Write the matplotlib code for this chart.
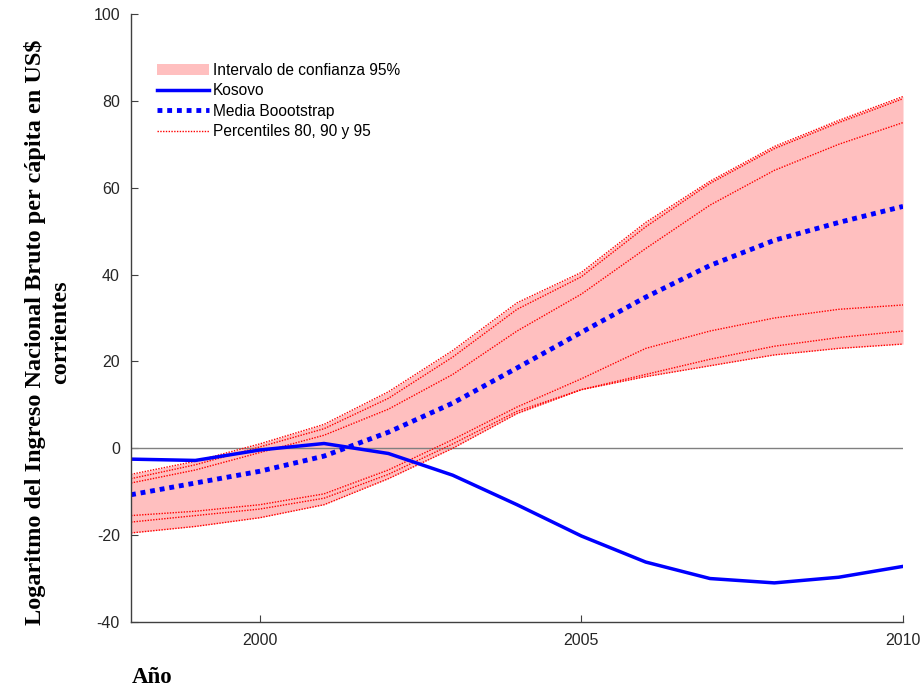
import numpy as np
import matplotlib.pyplot as plt
from matplotlib.patches import Patch
from matplotlib.lines import Line2D

plt.rcParams['axes.unicode_minus'] = False

# Datos (1998-2010)
anios = np.arange(1998, 2011)
kosovo = [-2.5, -2.8, -0.4, 1.1, -1.2, -6.2, -13.0, -20.2, -26.2, -30.0, -31.0, -29.7, -27.2]
media = [-10.7, -8.0, -5.3, -1.8, 3.7, 10.4, 18.5, 26.7, 34.8, 42.1, 47.9, 52.0, 55.7]
p95_sup = [-6.0, -3.0, 1.0, 5.5, 13.0, 22.5, 33.5, 40.5, 52.0, 61.5, 69.5, 75.5, 81.0]
p90_sup = [-7.0, -3.8, 0.3, 4.5, 11.5, 21.0, 32.0, 39.5, 51.0, 61.0, 69.0, 75.0, 80.5]
p80_sup = [-8.0, -5.0, -1.0, 3.0, 9.0, 17.0, 27.0, 35.5, 46.0, 56.0, 64.0, 70.0, 75.0]
p80_inf = [-15.5, -14.5, -13.0, -10.5, -5.0, 2.0, 9.5, 16.0, 23.0, 27.0, 30.0, 32.0, 33.0]
p90_inf = [-17.0, -15.5, -14.0, -11.5, -6.0, 1.0, 8.5, 13.5, 17.0, 20.5, 23.5, 25.5, 27.0]
p95_inf = [-19.5, -18.0, -16.0, -13.0, -7.0, 0.0, 8.0, 13.5, 16.5, 19.0, 21.5, 23.0, 24.0]

fig = plt.figure(figsize=(9.24, 6.91), dpi=100)
ax = fig.add_axes([0.1418, 0.0999, 0.8355, 0.8798])

ax.fill_between(anios, p95_inf, p95_sup, color='#ffbfbf', lw=0)
ax.axhline(0, color='#808080', lw=1.0)
for serie in [p95_sup, p90_sup, p80_sup, p80_inf, p90_inf, p95_inf]:
    ax.plot(anios, serie, color='red', ls=(0, (1, 1)), lw=1.0)
ax.plot(anios, kosovo, color='#0000ff', lw=2.5)
ax.plot(anios, media, color='#0000ff', ls=(0, (1, 1)), lw=3.5)

ax.set_xlim(1998, 2010)
ax.set_ylim(-40, 100)
ax.set_xticks([2000, 2005, 2010])
ax.set_yticks(np.arange(-40, 101, 20))
for s in ['top', 'right']:
    ax.spines[s].set_visible(False)
for s in ['left', 'bottom']:
    ax.spines[s].set_color('#404040')
    ax.spines[s].set_linewidth(1.0)
ax.tick_params(direction='in', length=5, colors='#404040', labelcolor='#262626',
               labelsize=11.5, pad=8)
for lab in ax.get_xticklabels() + ax.get_yticklabels():
    lab.set_family('Liberation Sans')

ax.set_ylabel('Logaritmo del Ingreso Nacional Bruto per cápita en US$\ncorrientes',
              family='Liberation Serif', fontweight='bold', fontsize=17.5,
              linespacing=1.25, labelpad=16)
ax.yaxis.label.set_y(0.477)
fig.text(0.143, 0.012, 'Año', family='Liberation Serif', fontweight='bold',
         fontsize=16.5, ha='left', va='baseline')

handles = [
    Patch(facecolor='#ffbfbf', edgecolor='none'),
    Line2D([], [], color='#0000ff', lw=2.5),
    Line2D([], [], color='#0000ff', ls=(0, (1, 1)), lw=3.5),
    Line2D([], [], color='red', ls=(0, (1, 1)), lw=1.0),
]
labels = ['Intervalo de confianza 95%', 'Kosovo', 'Media Boootstrap',
          'Percentiles 80, 90 y 95']
ax.legend(handles, labels, loc='upper left', bbox_to_anchor=(0.026, 0.93),
          frameon=False, prop={'family': 'Liberation Sans', 'size': 11.2},
          handlelength=3.3, handletextpad=0.25, labelspacing=0.35,
          borderaxespad=0)

fig.savefig('out.png', dpi=100)
